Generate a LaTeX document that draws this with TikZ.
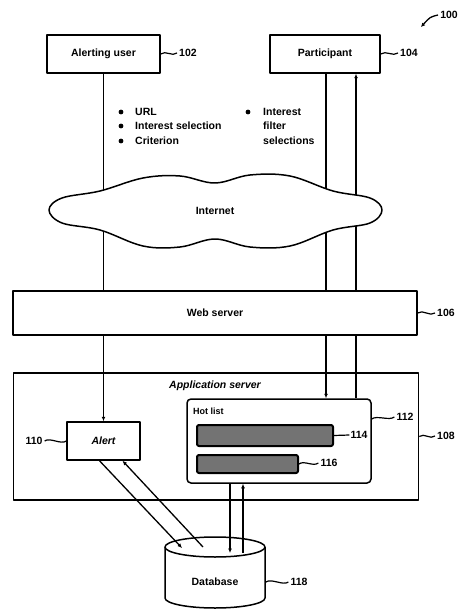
\documentclass[tikz,border=0pt]{standalone}
\usepackage{fontspec}
\setmainfont{Liberation Sans}
\usetikzlibrary{arrows.meta}
\begin{document}
\begin{tikzpicture}[x=1pt,y=-1pt,line join=round,
  box/.style={draw,line width=1.5pt,fill=white,inner sep=0pt,font=\bfseries\fontsize{10.5}{12}\selectfont},
  lab/.style={font=\bfseries\fontsize{10.5}{12}\selectfont,inner sep=0pt},
  small/.style={font=\bfseries\fontsize{9}{10}\selectfont,inner sep=0pt},
  wire/.style={line width=1.3pt},
  tip/.style={-{Latex[length=4.5pt,width=4pt]}},
  tilde/.style={line width=1.2pt},
  inner/.style={draw,line width=2pt,fill=black!55,rounded corners=2pt,inner sep=0pt},
]
\useasboundingbox (0,0) rectangle (460,609);
% application server (behind the wires)
\node[box,minimum width=405pt,minimum height=127pt] (as) at (216,436.5) {};
\node[lab,font=\bfseries\itshape\fontsize{10.5}{12}\selectfont] (asl) at (215,386) {Application server};
% top boxes
\node[box,minimum width=113pt,minimum height=38pt] (au) at (103.5,54) {Alerting user};
\node[box,minimum width=110pt,minimum height=38pt] (pa) at (325,54) {Participant};
% hot list
\node[box,rounded corners=4pt,minimum width=184pt,minimum height=84pt] (hl) at (279,441) {};
\node[small,anchor=west] (hll) at (193,411) {Hot list};
\node[inner,minimum width=136pt,minimum height=21pt] (i114) at (265,435.5) {};
\node[inner,minimum width=101pt,minimum height=18pt] (i116) at (247.5,464) {};
% alert
\node[box,minimum width=73pt,minimum height=38pt,font=\bfseries\itshape\fontsize{10.5}{12}\selectfont] (al) at (103.5,441) {Alert};
% database
\coordinate (dbc) at (215,547);
\draw[line width=1.5pt,fill=white] (165,547) -- (165,598) arc[start angle=180,end angle=360,x radius=50pt,y radius=10pt] -- (265,547);
\draw[line width=1.5pt,fill=white] (dbc) ellipse[x radius=50pt,y radius=10pt];
\node[lab] (db) at (215,582) {Database};
\coordinate (dbA) at (182,548);
\coordinate (dbB) at (203,547);
\coordinate (dbC) at (230,553);
\coordinate (dbD) at (243,553);
\coordinate (dbE) at (266,582);
% wires
\draw[wire,tip] (au.south) -- (al.north);
\draw[wire,tip] ([xshift=1pt]pa.south) -- ([xshift=1pt]pa.south |- hl.north);
\draw[wire,tip] ([xshift=31pt]pa.south |- hl.north) -- ([xshift=31pt]pa.south);
\draw[wire,tip] ([xshift=-4pt]al.south) -- (dbA);
\draw[wire,tip] (dbB) -- ([xshift=19pt]al.south);
\draw[wire,tip] (hl.south -| dbC) -- (dbC);
\draw[wire,tip] (dbD) -- (hl.south -| dbD);
% cloud
\draw[line width=1.5pt,fill=white] plot[smooth cycle,tension=0.6] coordinates {
 (49,210) (62,198) (100,191) (143,178) (180,176) (215,183) (250,175) (290,176)
 (333,191) (370,198) (382,210) (370,223) (333,230) (290,246) (250,247) (215,239)
 (180,247) (143,246) (100,230) (62,223)};
\node[lab] (net) at (215,211) {Internet};
% web server
\node[box,minimum width=404pt,minimum height=44pt] (ws) at (215,313) {Web server};
% bullets
\foreach \y in {112,126,141} {\fill (121,\y) circle (2.4pt);}
\fill (248,112) circle (2.4pt);
\node[lab,anchor=west] (b1) at (135,112) {URL};
\node[lab,anchor=west] (b2) at (135,126) {Interest selection};
\node[lab,anchor=west] (b3) at (135,141) {Criterion};
\node[lab,anchor=west] (c1) at (263,112) {Interest};
\node[lab,anchor=west] (c2) at (263,126) {filter};
\node[lab,anchor=west] (c3) at (263,141) {selections};
% reference numerals
\node[lab] (l102) at (188,53) {102};
\node[lab] (l104) at (409,53) {104};
\node[lab] (l106) at (446,313) {106};
\node[lab] (l108) at (446,436) {108};
\node[lab] (l112) at (405,417) {112};
\node[lab] (l114) at (359,435) {114};
\node[lab] (l116) at (329,463) {116};
\node[lab] (l110) at (34,441) {110};
\node[lab] (l118) at (299,582) {118};
\node[lab] (l100) at (449,15) {100};
\draw[tilde] (au.east) .. controls +(5,-4) and +(-5,4) .. ([xshift=-2pt]l102.west);
\draw[tilde] (pa.east) .. controls +(5,-4) and +(-5,4) .. ([xshift=-2pt]l104.west);
\draw[tilde] (ws.east) .. controls +(5,-4) and +(-5,4) .. ([xshift=-2pt]l106.west);
\draw[tilde] (as.east) .. controls +(5,-4) and +(-5,4) .. ([xshift=-2pt]l108.west);
\draw[tilde] ([yshift=22pt]hl.east) .. controls +(5,-4) and +(-5,4) .. ([xshift=-2pt]l112.west);
\draw[tilde] (i114.east) -- ([xshift=-1pt]l114.west);
\draw[tilde] (i116.east) .. controls +(5,-4) and +(-5,4) .. ([xshift=-2pt]l116.west);
\draw[tilde] ([xshift=2pt]l110.east) .. controls +(5,-4) and +(-5,4) .. (al.west);
\draw[tilde] (dbE) .. controls +(5,-4) and +(-5,4) .. ([xshift=-2pt]l118.west);
\draw[line width=1.3pt,-{Latex[length=4pt,width=4pt]}] ([xshift=-2pt]l100.west) .. controls (430,17) .. (421,27);
\end{tikzpicture}
\end{document}
